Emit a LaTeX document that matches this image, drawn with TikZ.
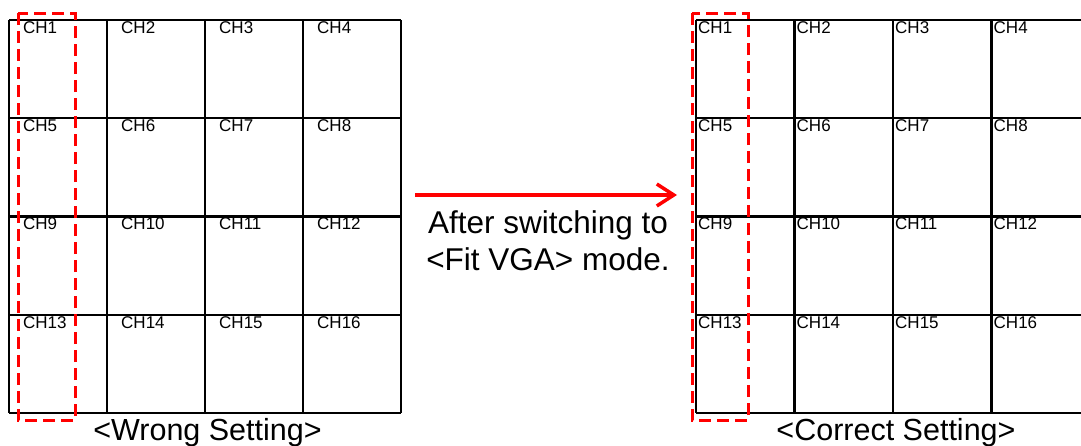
\documentclass[tikz,border=0pt]{standalone}
\usepackage{fontspec}
\setmainfont{Liberation Sans}
\usetikzlibrary{arrows.meta}
\definecolor{redline}{RGB}{255,0,0}
\tikzset{
  gridline/.style={draw=black, line width=2.2pt},
  chlabel/.style={anchor=base west, inner sep=0pt, font=\fontsize{17}{17}\selectfont},
  selbox/.style={draw=redline, line width=3pt, dash pattern=on 12pt off 6pt},
  bigtext/.style={inner sep=0pt, font=\fontsize{31.5}{37}\selectfont},
  captext/.style={inner sep=0pt, font=\fontsize{30.5}{37}\selectfont},
  switcharrow/.style={draw=redline, line width=3.5pt, -{Straight Barb[length=17pt,width=22pt,line width=3.5pt]}}
}
\begin{document}
\begin{tikzpicture}[x=1pt,y=-1pt]
\clip (0,0) rectangle (1081,445);
\fill[white] (0,0) rectangle (1081,445);
% left grid
\foreach \x in {9,107,205,303,401} \draw[gridline] (\x,20) -- (\x,413);
\foreach \y in {20,118.25,216.5,314.75,413} \draw[gridline] (9,\y) -- (401,\y);
% right grid
\foreach \x in {696,794.5,893,991.5,1090} \draw[gridline] (\x,20) -- (\x,413);
\foreach \y in {20,118.25,216.5,314.75,413} \draw[gridline] (696,\y) -- (1090,\y);
% labels
\foreach \r in {0,1,2,3}{
  \foreach \c in {1,2,3,4}{
    \pgfmathtruncatemacro{\n}{\r*4+\c}
    \pgfmathsetmacro{\lx}{9+(\c-1)*98+14}
    \pgfmathsetmacro{\rx}{696+(\c-1)*98.5+2}
    \pgfmathsetmacro{\by}{20+\r*98.25+13.3}
    \node[chlabel] (L\n) at (\lx,\by) {CH\n};
    \node[chlabel] (R\n) at (\rx,\by) {CH\n};
  }
}
% selection boxes
\draw[selbox] (18,13) rectangle (75,420);
\draw[selbox] (692,13) rectangle (748,420);
% arrow
\coordinate (astart) at (415,195);
\coordinate (aend) at (677,195);
\draw[switcharrow] (astart) -- (aend);
\node[bigtext, align=center, anchor=base] (note) at (548,270) {After switching to\\\textless Fit VGA\textgreater{} mode.};
% captions
\node[captext, anchor=base] (wrong) at (207.5,440.5) {\textless Wrong Setting\textgreater};
\node[captext, anchor=base] (correct) at (896,440.5) {\textless Correct Setting\textgreater};
\end{tikzpicture}
\end{document}
